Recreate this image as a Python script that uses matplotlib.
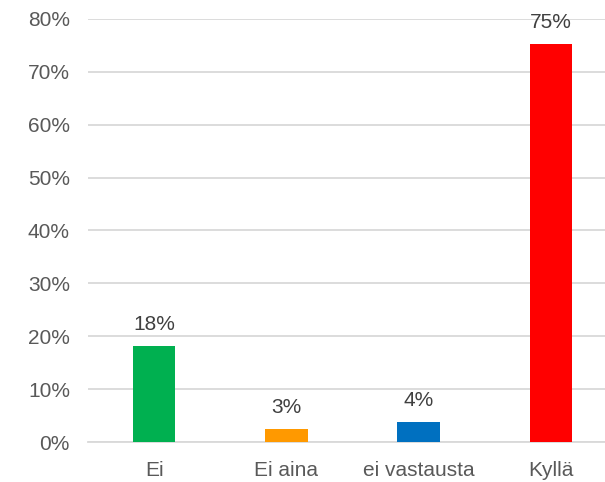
import matplotlib
matplotlib.use("Agg")
import matplotlib.pyplot as plt

categories = ["Ei", "Ei aina", "ei vastausta", "Kyllä"]
values = [18.2, 2.5, 3.8, 75.3]
labels = ["18%", "3%", "4%", "75%"]
colors = ["#00B050", "#FF9900", "#0070C0", "#FF0000"]
yticks = [0, 10, 20, 30, 40, 50, 60, 70, 80]

plt.rcParams['font.family'] = ['Liberation Sans', 'DejaVu Sans']
fig = plt.figure(figsize=(6.05, 4.82), dpi=100)
W, H = 605, 482
left, right = 88, 617
bottom, top = 442, 19
ax = fig.add_axes([left / W, (H - bottom) / H, (right - left) / W, (bottom - top) / H])

x = list(range(len(categories)))
ax.bar(x, values, width=0.32, color=colors, zorder=3)
for xi, v, lab in zip(x, values, labels):
    ax.text(xi, v + 2.2, lab, ha='center', va='bottom', fontsize=15, color='#404040')

ax.set_xlim(-0.5, len(categories) - 0.5)
ax.set_ylim(0, 80)
ax.set_yticks(yticks)
ax.set_yticklabels([f"{t}%" for t in yticks], fontsize=15, color='#595959')
ax.set_xticks(x)
ax.set_xticklabels(categories, fontsize=15, color='#595959')
ax.yaxis.grid(True, color='#D9D9D9', linewidth=1.3, zorder=0)
ax.set_axisbelow(True)
for s in ['top', 'right', 'left']:
    ax.spines[s].set_visible(False)
ax.spines['bottom'].set_color('#D9D9D9')
ax.spines['bottom'].set_linewidth(1.3)
ax.tick_params(axis='both', length=0)
ax.tick_params(axis='y', pad=13)
ax.tick_params(axis='x', pad=14)

fig.savefig("out.png", dpi=100)
